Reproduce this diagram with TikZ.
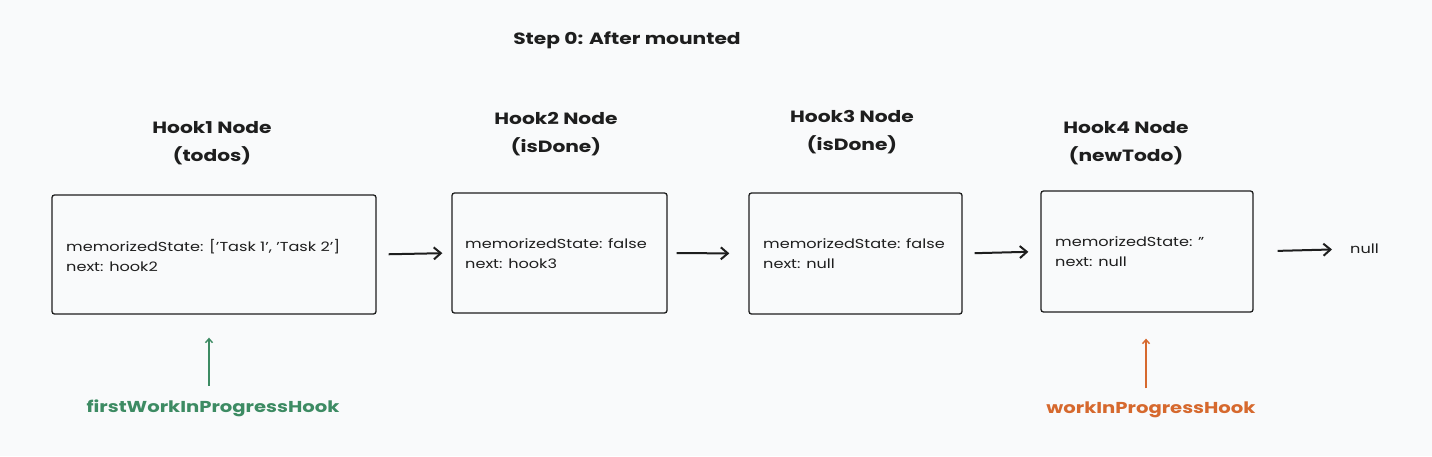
\documentclass[tikz,border=0pt]{standalone}
\usepackage{fontspec}
\setmainfont{Poppins}[FakeStretch=1.24]
\usetikzlibrary{arrows.meta}
\definecolor{bg}{HTML}{F9FAFB}
\definecolor{ink}{HTML}{1E1E1E}
\definecolor{gr}{HTML}{3D8B63}
\definecolor{org}{HTML}{D6692E}
\tikzset{
  hookbox/.style={draw=ink, line width=1.3pt, rounded corners=2.5pt, inner sep=0pt},
  body/.style={font=\fontsize{13}{20}\selectfont, text=ink, align=left, anchor=west, inner sep=0pt},
  title/.style={font=\fontsize{16.3}{28}\selectfont\bfseries, text=ink, align=center},
  arr/.style={draw=ink, line width=2pt, -{Straight Barb[length=7pt,width=12pt]}},
  parr/.style={line width=1.4pt, -{Straight Barb[length=4pt,width=7pt]}},
  plabel/.style={font=\fontsize{15.8}{20}\selectfont\bfseries}
}
\begin{document}
\begin{tikzpicture}[x=1pt,y=-1pt]
\fill[bg] (0,0) rectangle (1432,456);
\useasboundingbox (0,0) rectangle (1432,456);
\node[title] (step) at (627,40) {Step 0: After mounted};
% boxes
\node[hookbox, minimum width=324pt, minimum height=119pt] (b1) at (214,254.5) {};
\node[hookbox, minimum width=215pt, minimum height=120pt] (b2) at (559.5,253) {};
\node[hookbox, minimum width=213pt, minimum height=121pt] (b3) at (855.5,253.5) {};
\node[hookbox, minimum width=212pt, minimum height=121pt] (b4) at (1147,251.5) {};
% titles
\node[title] (t1) at (212,143) {Hook1 Node\\(todos)};
\node[title] (t2) at (556,134) {Hook2 Node\\(isDone)};
\node[title] (t3) at (852,132) {Hook3 Node\\(isDone)};
\node[title] (t4) at (1126,143) {Hook4 Node\\(newTodo)};
% body text
\node[body] (x1) at (66,255) {memorizedState: ['Task 1', 'Task 2']\\next: hook2};
\node[body] (x2) at (465,254) {memorizedState: false\\next: hook3};
\node[body] (x3) at (763,254) {memorizedState: false\\next: null};
\node[body] (x4) at (1055,252) {memorizedState: ''\\next: null};
\node[body] (nul) at (1350,249) {null};
% arrows
\draw[arr, shorten <=12pt, shorten >=9pt] (b1.east) -- (b2.west);
\draw[arr, shorten <=9pt, shorten >=19pt] (b2.east) -- (b3.west);
\draw[arr, shorten <=12pt, shorten >=12pt] (b3.east) -- (b4.west);
\draw[arr, shorten <=24pt, shorten >=18pt] (b4.east) -- (nul.west);
% pointers
\node[plabel, text=gr] (p1) at (213,408) {firstWorkInProgressHook};
\node[plabel, text=org] (p2) at (1151,410) {workInProgressHook};
\draw[parr, draw=gr, shorten <=10pt, shorten >=23pt] (p1.north -| 209,0) -- (b1.south -| 209,0);
\draw[parr, draw=org, shorten <=10pt, shorten >=26pt] (p2.north -| 1146,0) -- (b4.south -| 1146,0);
\end{tikzpicture}
\end{document}
